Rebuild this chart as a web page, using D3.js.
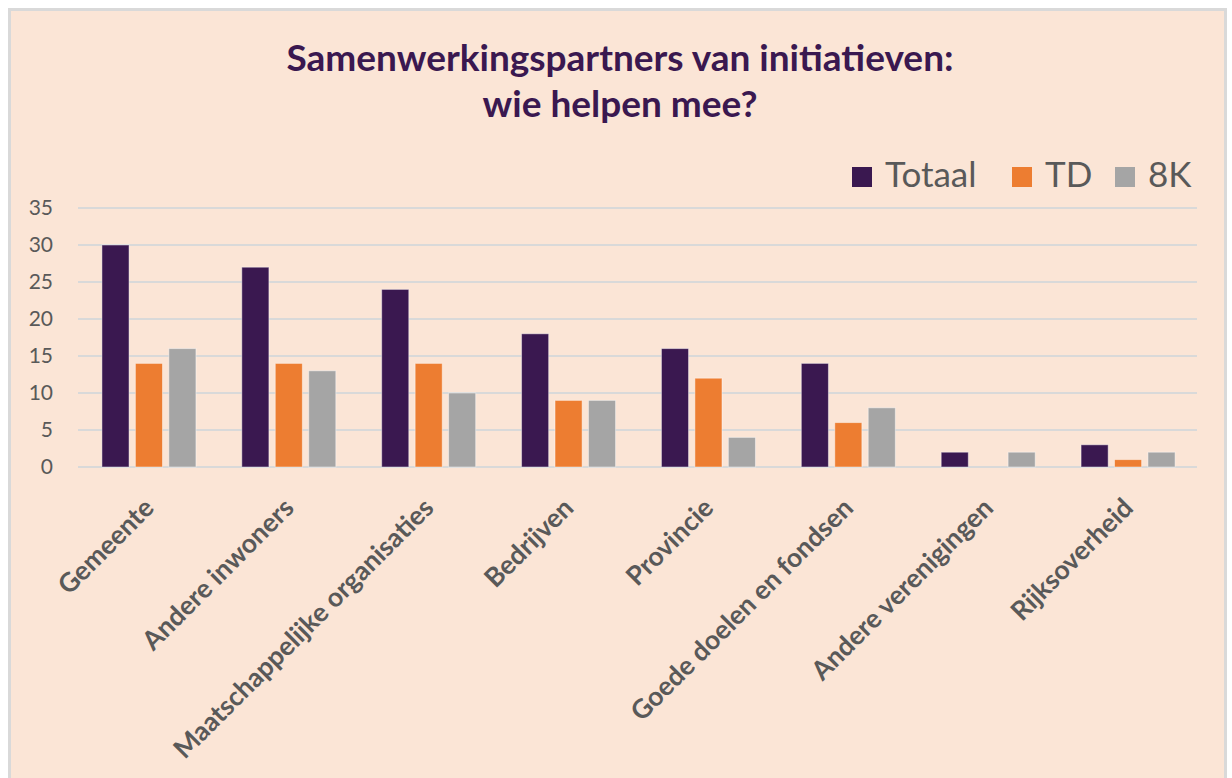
<!DOCTYPE html>
<html>
<head>
<meta charset="utf-8">
<script src="https://cdn.jsdelivr.net/npm/d3@7"></script>
<style>
  body { margin: 0; background: #fff; }
  svg text { font-family: Lato, "Open Sans", sans-serif; }
</style>
</head>
<body>
<div id="chart"></div>
<script>
const categories = ["Gemeente", "Andere inwoners", "Maatschappelijke organisaties", "Bedrijven",
    "Provincie", "Goede doelen en fondsen", "Andere verenigingen", "Rijksoverheid"];
const seriesNames = ["Totaal", "TD", "8K"];
const totaal = [30, 27, 24, 18, 16, 14, 2, 3];
const td = [14, 14, 14, 9, 12, 6, 0, 1];
const achtK = [16, 13, 10, 9, 4, 8, 2, 2];
const colors = ["#3a1850", "#ed7d31", "#a5a5a5"];
const yTicks = [0, 5, 10, 15, 20, 25, 30, 35];

const width = 1232, height = 778;
const margin = { left: 78, right: 35, top: 208, bottom: 311 };

const svg = d3.select("#chart")
    .append("svg")
    .attr("width", width)
    .attr("height", height);

// chart area background with border
svg.append("rect")
    .attr("x", 9.5)
    .attr("y", 9.5)
    .attr("width", 1216)
    .attr("height", 780)
    .attr("fill", "#fbe5d6")
    .attr("stroke", "#d9d9d9")
    .attr("stroke-width", 3);

const x0 = d3.scaleBand()
    .domain(categories)
    .range([margin.left, width - margin.right]);

const x1 = d3.scaleBand()
    .domain(seriesNames)
    .range([0, 94])
    .paddingInner(0.19)
    .paddingOuter(0);

const y = d3.scaleLinear()
    .domain([0, 35])
    .range([height - margin.bottom, margin.top]);

// gridlines
svg.append("g")
    .selectAll("line")
    .data(yTicks)
    .join("line")
    .attr("x1", margin.left)
    .attr("x2", width - margin.right)
    .attr("y1", d => y(d))
    .attr("y2", d => y(d))
    .attr("stroke", "#d9d9d9")
    .attr("stroke-width", 2);

// y axis labels
const yAxis = d3.axisLeft(y).tickValues(yTicks).tickSize(0).tickPadding(0);
svg.append("g")
    .attr("transform", `translate(${margin.left - 25},0)`)
    .call(yAxis)
    .call(g => g.select(".domain").remove())
    .call(g => g.selectAll("text")
        .style("font-size", "21px")
        .style("font-family", "Lato, sans-serif")
        .attr("fill", "#595959"));

// bars
const rows = categories.map((c, i) => ({ cat: c, values: [totaal[i], td[i], achtK[i]] }));

const groups = svg.append("g")
    .selectAll("g")
    .data(rows)
    .join("g")
    .attr("transform", d => `translate(${x0(d.cat) + x0.bandwidth() / 2 - 46},0)`);

groups.selectAll("rect")
    .data(d => d.values.map((v, j) => ({ key: seriesNames[j], value: v, color: colors[j] })))
    .join("rect")
    .filter(d => d.value > 0)
    .attr("x", d => x1(d.key))
    .attr("y", d => y(d.value))
    .attr("width", x1.bandwidth())
    .attr("height", d => y(0) - y(d.value))
    .attr("fill", d => d.color)
    .attr("stroke", "rgba(255,255,255,0.45)")
    .attr("stroke-width", 1);

// category labels, rotated
svg.append("g")
    .selectAll("text")
    .data(categories)
    .join("text")
    .attr("text-anchor", "end")
    .attr("transform", d => `translate(${x0(d) + x0.bandwidth() / 2 + 1},${height - margin.bottom + 36}) rotate(-45)`)
    .attr("dy", "0.35em")
    .style("font-size", "26.5px")
    .style("font-weight", "bold")
    .attr("fill", "#595959")
    .text(d => d);

// title
const title = svg.append("text")
    .attr("x", 620)
    .attr("text-anchor", "middle")
    .style("font-size", "37px")
    .style("font-weight", "bold")
    .attr("fill", "#3a1850");
title.append("tspan").attr("x", 620).attr("y", 71).text("Samenwerkingspartners van initiatieven:");
title.append("tspan").attr("x", 620).attr("y", 117).text("wie helpen mee?");

// legend
const legendX = [852, 1012, 1115];
const legend = svg.append("g")
    .selectAll("g")
    .data(seriesNames)
    .join("g")
    .attr("transform", (d, i) => `translate(${legendX[i]},167)`);

legend.append("rect")
    .attr("width", 20)
    .attr("height", 20)
    .attr("fill", (d, i) => colors[i]);

legend.append("text")
    .attr("x", 33)
    .attr("y", 20)
    .style("font-size", "35px")
    .attr("fill", "#595959")
    .text(d => d);
</script>
</body>
</html>
